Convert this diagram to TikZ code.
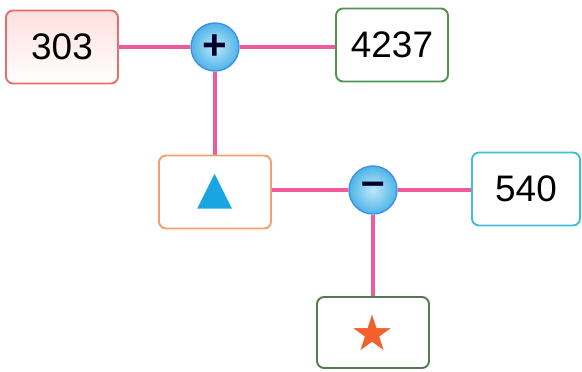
\documentclass[tikz,border=0pt]{standalone}
\usepackage{fontspec}
\setmainfont{Liberation Sans}
\newfontfamily\symfont{DejaVu Sans}
\usetikzlibrary{backgrounds}

\definecolor{linkpink}{HTML}{EE5A9C}
\definecolor{boxred}{HTML}{E46E6A}
\definecolor{boxgreen}{HTML}{4F9550}
\definecolor{boxorange}{HTML}{F2A070}
\definecolor{boxcyan}{HTML}{3EC0D2}
\definecolor{boxdark}{HTML}{567A50}
\definecolor{triblue}{HTML}{19A6E0}
\definecolor{starred}{HTML}{F2602E}
\definecolor{ballin}{HTML}{BDE8FA}
\definecolor{ballout}{HTML}{4FB4E6}

\tikzset{
  numbox/.style={draw=#1, line width=1.1pt, rounded corners=4pt, fill=white,
    minimum width=2.24cm, minimum height=1.46cm, inner sep=0pt,
    font=\fontsize{21}{25}\selectfont},
  opball/.style={circle, draw=ballout!80!blue, line width=0.8pt,
    inner color=ballin, outer color=ballout, minimum size=0.96cm, inner sep=0pt,
    font=\fontsize{24}{26}\selectfont, text=black!85!blue},
  link/.style={draw=linkpink, line width=2.3pt}
}

\begin{document}
\begin{tikzpicture}
\useasboundingbox (0,0) rectangle (11.64,-7.42);
% first row
\node[numbox=boxred, top color=pink!50, bottom color=white] (a) at (1.24,-0.94) {303};
\node[opball] (plus) at (4.30,-0.94) {\textbf{+}};
\node[numbox=boxgreen] (b) at (7.84,-0.90) {4237};
% second row
\node[numbox=boxorange] (tri) at (4.30,-3.84) {\symfont\fontsize{26}{28}\selectfont\textcolor{triblue}{▲}};
\node[opball] (minus) at (7.46,-3.80) {\raisebox{1pt}{\textbf{–}}};
\node[numbox=boxcyan, minimum width=2.16cm] (c) at (10.52,-3.78) {540};
% bottom
\node[numbox=boxdark, minimum height=1.42cm] (star) at (7.46,-6.65) {\symfont\fontsize{28}{30}\selectfont\textcolor{starred}{★}};
% links behind the boxes
\begin{scope}[on background layer]
\draw[link] (a) -- (plus) -- (b.west |- plus);
\draw[link] (plus) -- (tri);
\draw[link] (tri.east |- minus) -- (minus) -- (c.west |- minus);
\draw[link] (minus) -- (star);
\end{scope}
\end{tikzpicture}
\end{document}
